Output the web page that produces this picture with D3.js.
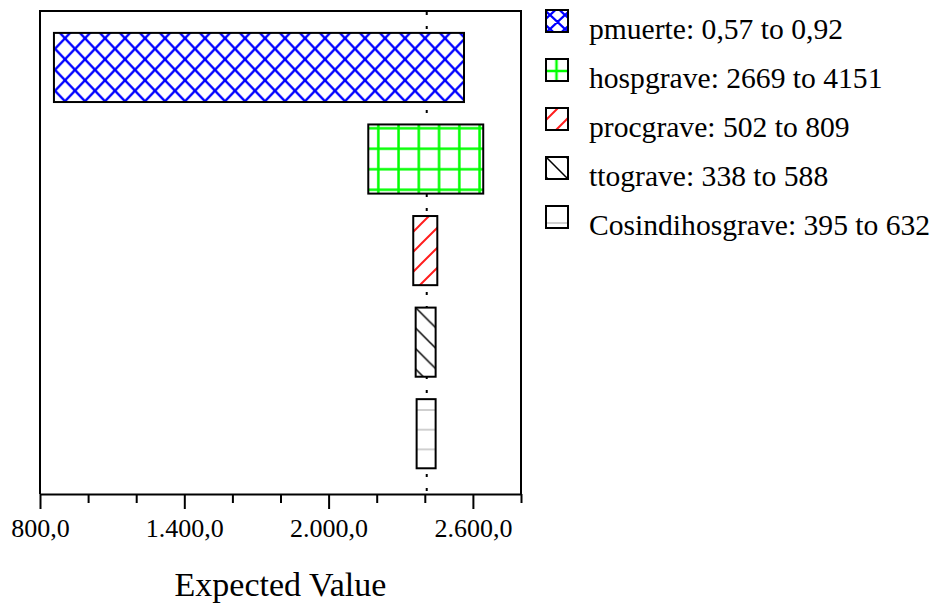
<!DOCTYPE html>
<html>
<head>
<meta charset="utf-8">
<script src="https://cdn.jsdelivr.net/npm/d3@7/dist/d3.min.js"></script>
<style>
  html, body { margin: 0; padding: 0; background: #fff; }
  svg { display: block; }
  text { font-family: "Liberation Serif", "Times New Roman", serif; fill: #000; }
</style>
</head>
<body>
<svg id="chart" width="936" height="604"></svg>
<script>
// Tornado diagram: range of the expected value for each uncertain parameter
const categories = ["pmuerte", "hospgrave", "procgrave", "ttograve", "Cosindihosgrave"];
const paramLow  = [0.57, 2669, 502, 338, 395];
const paramHigh = [0.92, 4151, 809, 588, 632];
const evLow  = [858, 2165, 2352, 2362, 2366];
const evHigh = [2563, 2643, 2452, 2445, 2445];
const expectedValue = 2408;
const xTicks = [800, 1000, 1200, 1400, 1600, 1800, 2000, 2200, 2400, 2600, 2800];
const xLabeledTicks = [800, 1400, 2000, 2600];
const xTitle = "Expected Value";

// hatch styles per parameter: [kind, colour, line width]
const hatchStyles = [
  ["cross", "#0000ff", 2.3],
  ["grid", "#00ff00", 2.5],
  ["fwd", "#ff1e1e", 2],
  ["back", "#000000", 1.5],
  ["horiz", "#c4c4c4", 1.6]
];

const locale = d3.formatLocale({ decimal: ",", thousands: ".", grouping: [3], currency: ["", ""] });
const fmtTick = locale.format(",.1f");
const fmtParam = v => Number.isInteger(v) ? locale.format("d")(v) : locale.format(".2f")(v);

const svg = d3.select("#chart");
const defs = svg.append("defs");

const plot = { left: 40, right: 521, top: 11, bottom: 494 };

const x = d3.scaleLinear().domain([800, 2800]).range([plot.left, plot.right]);
const y = d3.scaleBand().domain(categories)
  .range([plot.top, plot.bottom])
  .paddingInner(0.245).paddingOuter(0.26).align(0.46);

// builds a user-space hatch pattern; (ox, oy) sets where the tiling starts
function hatch(id, kind, color, lw, ox, oy, w, h) {
  const p = defs.append("pattern")
    .attr("id", id)
    .attr("patternUnits", "userSpaceOnUse")
    .attr("x", ox).attr("y", oy)
    .attr("width", w).attr("height", h);
  let d;
  if (kind === "cross") {
    d = `M${-w},${-h}L${2 * w},${2 * h}M${2 * w},${-h}L${-w},${2 * h}` +
        `M${-w},0L0,${-h}M${w},${2*h}L${2*w},${h}M0,${2*h}L${-w},${h}M${w},${-h}L${2*w},0`;
  } else if (kind === "grid") {
    d = `M${w / 2},0V${h}M0,${h / 2}H${w}`;
  } else if (kind === "fwd") {
    d = `M${-w},${2 * h}L${2 * w},${-h}M${-w},${h}L${w},${-h}M0,${2 * h}L${2 * w},0`;
  } else if (kind === "back") {
    d = `M${-w},${-h}L${2 * w},${2 * h}M${-w},0L${w},${2 * h}M0,${-h}L${2 * w},${h}`;
  } else {
    d = `M0,${h / 2}H${w}`;
  }
  p.append("path").attr("d", d)
    .attr("fill", "none").attr("stroke", color).attr("stroke-width", lw);
}

// tiling offsets and periods for the bars
const barTiles = [
  [5, 17.3, 20, 21],
  [368.2, 118, 20.25, 20.5],
  [0, 5, 20, 20],
  [0, 15, 20.5, 20.5],
  [0, 400.15, 20, 19.7]
];
hatchStyles.forEach((s, i) => {
  const t = barTiles[i];
  hatch("bar-hatch-" + i, s[0], s[1], s[2], t[0], t[1], t[2], t[3]);
});

// expected value reference line (drawn first, bars cover it)
svg.append("line")
  .attr("x1", x(expectedValue)).attr("x2", x(expectedValue))
  .attr("y1", plot.top + 1).attr("y2", plot.bottom)
  .attr("stroke", "#000").attr("stroke-width", 2)
  .attr("stroke-dasharray", "3,11");

// bars
const bars = svg.append("g").selectAll("g")
  .data(categories)
  .join("g");

bars.append("rect")
  .attr("x", (d, i) => x(evLow[i]))
  .attr("y", d => y(d))
  .attr("width", (d, i) => x(evHigh[i]) - x(evLow[i]))
  .attr("height", y.bandwidth())
  .attr("fill", "#fff");

bars.append("rect")
  .attr("x", (d, i) => x(evLow[i]))
  .attr("y", d => y(d))
  .attr("width", (d, i) => x(evHigh[i]) - x(evLow[i]))
  .attr("height", y.bandwidth())
  .attr("fill", (d, i) => `url(#bar-hatch-${i})`)
  .attr("stroke", "#000")
  .attr("stroke-width", 2);

// frame: left, top and right edges
svg.append("path")
  .attr("d", `M${plot.left},${plot.bottom}V${plot.top}H${plot.right}V${plot.bottom}`)
  .attr("fill", "none").attr("stroke", "#000").attr("stroke-width", 2);

// x axis
const axis = svg.append("g")
  .attr("transform", `translate(0,${plot.bottom})`)
  .call(d3.axisBottom(x)
    .tickValues(xTicks)
    .tickSizeInner(9)
    .tickSizeOuter(0)
    .tickFormat(v => xLabeledTicks.includes(v) ? fmtTick(v) : ""));

axis.select(".domain").attr("stroke", "#000").attr("stroke-width", 2);
axis.selectAll(".tick line")
  .attr("stroke", "#000").attr("stroke-width", 2)
  .attr("y2", v => xLabeledTicks.includes(v) ? 15 : 9);
axis.selectAll(".tick text")
  .attr("y", 43).attr("dy", 0)
  .style("font-family", '"Liberation Serif", "Times New Roman", serif')
  .style("font-size", "26px")
  .attr("fill", "#000");

svg.append("text")
  .attr("x", (plot.left + plot.right) / 2)
  .attr("y", 596)
  .attr("text-anchor", "middle")
  .style("font-size", "34px")
  .text(xTitle);

// legend
const legendX = 546, legendTop = 10, legendStep = 49, sw = 22;
// tiling offsets inside each swatch (local to the swatch's own coordinates)
const swatchTiles = [
  [4, 5, 15, 14],
  [0.5, 2, 20, 20],
  [0, 12, 20, 20],
  [0, 0, 20, 20],
  [0, 7, 20, 20]
];
hatchStyles.forEach((s, i) => {
  const t = swatchTiles[i];
  hatch("key-hatch-" + i, s[0], s[1], s[2], t[0], t[1], t[2], t[3]);
});

const legend = svg.append("g").selectAll("g")
  .data(categories)
  .join("g")
  .attr("transform", (d, i) => `translate(${legendX},${legendTop + i * legendStep})`);

legend.append("rect")
  .attr("width", sw).attr("height", sw)
  .attr("fill", "#fff");
legend.append("rect")
  .attr("width", sw).attr("height", sw)
  .attr("fill", (d, i) => `url(#key-hatch-${i})`)
  .attr("stroke", "#000").attr("stroke-width", 2);

legend.append("text")
  .attr("x", 43)
  .attr("y", 29)
  .style("font-size", "29.6px")
  .text((d, i) => `${d}: ${fmtParam(paramLow[i])} to ${fmtParam(paramHigh[i])}`);
</script>
</body>
</html>
